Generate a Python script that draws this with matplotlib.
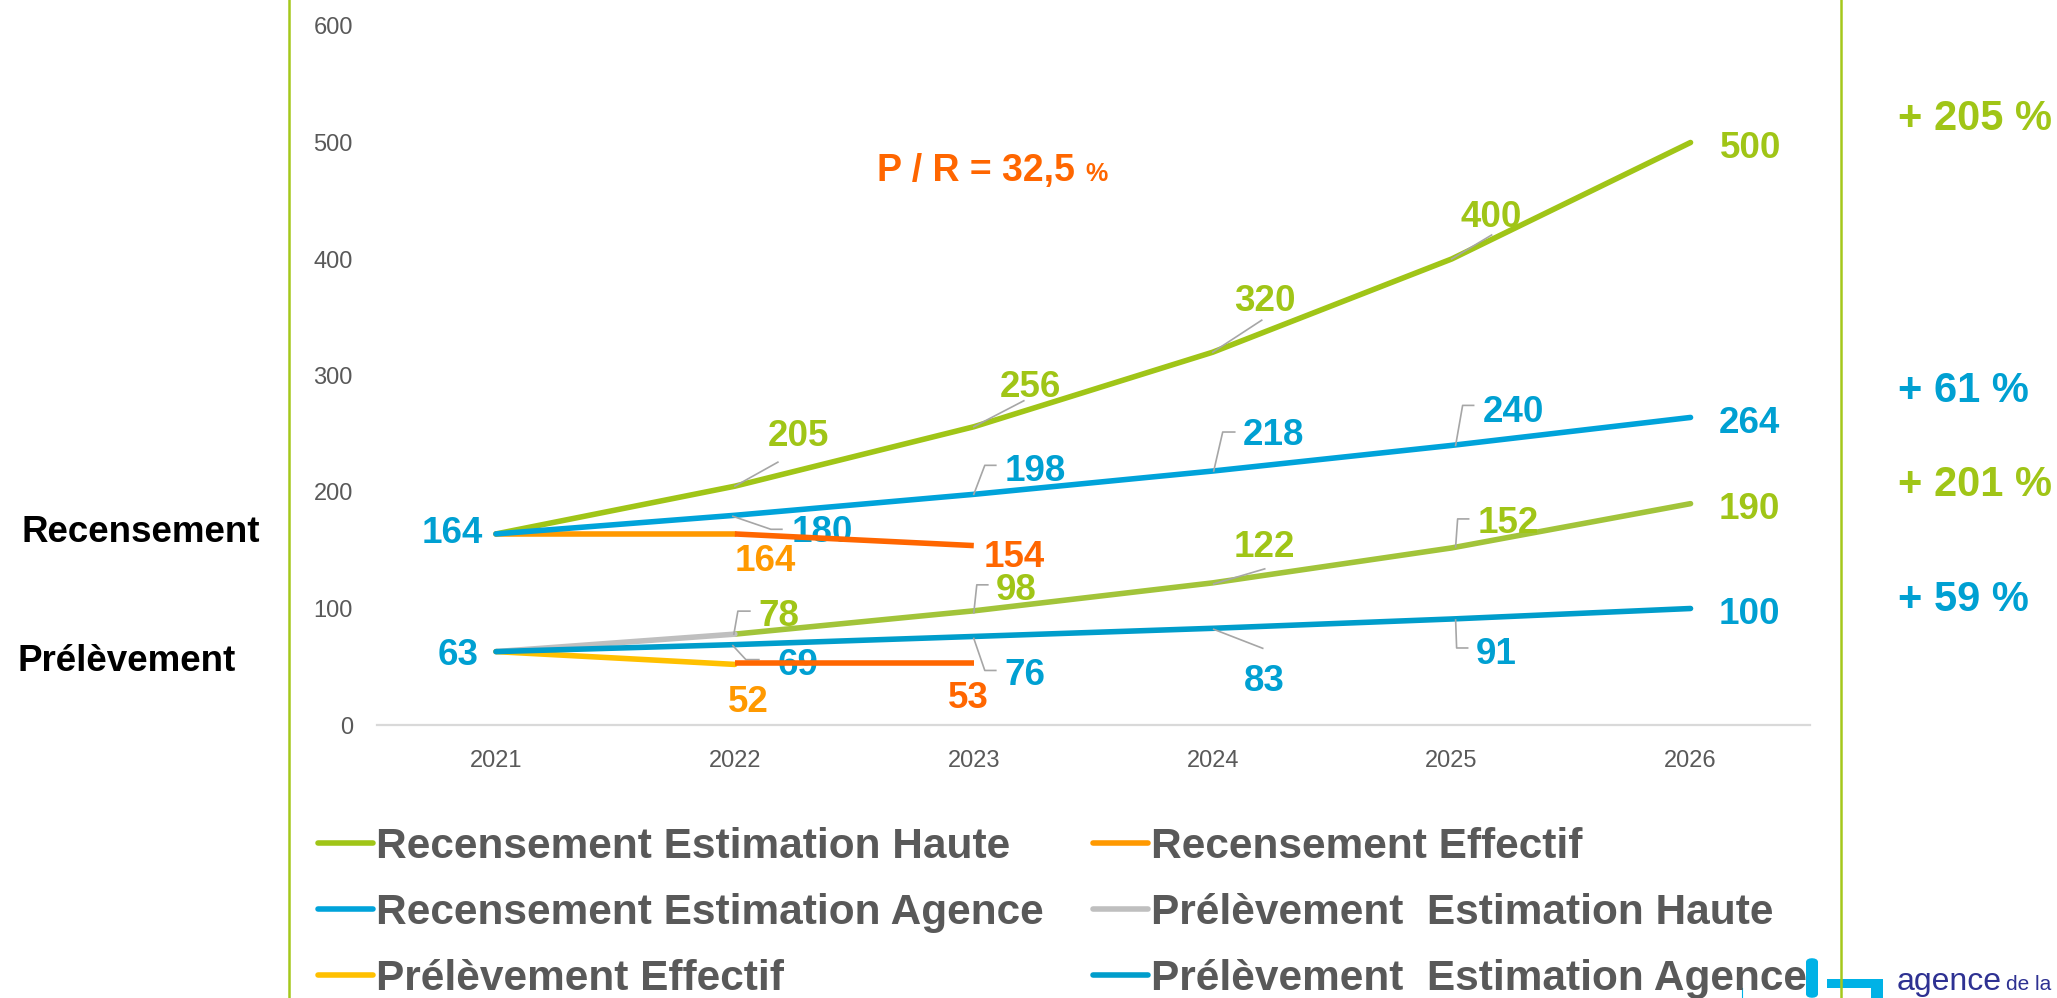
import matplotlib
matplotlib.use('Agg')
import matplotlib.pyplot as plt
from matplotlib.lines import Line2D
from matplotlib.patches import Rectangle, FancyBboxPatch

# ---------------- data ----------------
years = ['2021', '2022', '2023', '2024', '2025', '2026']
rec_haute = [164, 205, 256, 320, 400, 500]
rec_agence = [164, 180, 198, 218, 240, 264]
rec_effectif = [164, 164]          # 2021-2022
rec_effectif_next = [164, 154]     # 2022-2023
prel_haute = [63, 78, 98, 122, 152, 190]
prel_agence = [63, 69, 76, 83, 91, 100]
prel_effectif = [63, 52]           # 2021-2022
prel_effectif_next = [53, 53]      # 2022-2023
growth_labels = ['+ 205 %', '+ 61 %', '+ 201 %', '+ 59 %']
ratio_text = 'P / R = 32,5 '
legend_labels = ['Recensement Estimation Haute', 'Recensement Estimation Agence',
                 'Prélèvement Effectif', 'Recensement Effectif',
                 'Prélèvement  Estimation Haute', 'Prélèvement  Estimation Agence']

# ---------------- style ----------------
GREEN = '#A0C517'
GREEN2 = '#A2C43A'
BLUE = '#00A3DA'
BLUE2 = '#009DCB'
LBLUE = '#00A0D2'
ORANGE = '#FF9900'
RED = '#FF6600'
YELLOW = '#FFC000'
GRAY = '#BFBFBF'
LEADER = '#A6A6A6'
TXT = '#595959'
FRAME = '#A5C81C'

W, H = 2057, 998
plt.rcParams['font.family'] = ['Liberation Sans', 'DejaVu Sans']
fig = plt.figure(figsize=(W / 100, H / 100), dpi=100)
ax = fig.add_axes([376.5 / W, 1 - 725 / H, (1810 - 376.5) / W, (725 - 26) / H])
ax.set_xlim(-0.5, len(years) - 0.5)
ax.set_ylim(0, 600)
ax.set_yticks(range(0, 601, 100))
ax.set_xticks(range(len(years)))
ax.set_xticklabels(years)
for s in ['top', 'right', 'left']:
    ax.spines[s].set_visible(False)
ax.spines['bottom'].set_color('#D9D9D9')
ax.spines['bottom'].set_linewidth(1.6)
ax.tick_params(axis='both', length=0, labelsize=17, labelcolor=TXT)
ax.tick_params(axis='x', pad=18)
ax.tick_params(axis='y', pad=17)

LW = 4.0
kw = dict(lw=LW, solid_capstyle='round', solid_joinstyle='round')
xi = list(range(len(years)))
l_rh, = ax.plot(xi, rec_haute, color=GREEN, zorder=2, **kw)
ax.plot(xi[1:], prel_haute[1:], color=GREEN2, zorder=2, **kw)
l_ph, = ax.plot(xi[:2], prel_haute[:2], color=GRAY, zorder=2, **kw)
l_re, = ax.plot(xi[:2], rec_effectif, color=ORANGE, zorder=2.1, **kw)
l_pe, = ax.plot(xi[:2], prel_effectif, color=YELLOW, zorder=2.1, **kw)
l_ra, = ax.plot(xi, rec_agence, color=BLUE, zorder=2.2, **kw)
l_pa, = ax.plot(xi, prel_agence, color=BLUE2, zorder=2.2, **kw)
ax.plot(xi[1:3], rec_effectif_next, color=RED, zorder=6, lw=LW, solid_capstyle='butt')
ax.plot(xi[1:3], prel_effectif_next, color=RED, zorder=6, lw=LW, solid_capstyle='butt')

# ---------------- data labels ----------------
LFS = 26.5
EM = LFS * 100 / 72
CAP = 0.716 * EM


def put_label(i, v, txt, color, dx, dy, leader=None):
    x0, y0 = ax.transData.transform((i, v))
    ax.text((x0 + dx) / W, (y0 + dy - CAP / 2) / H, txt, color=color, fontsize=LFS,
            fontweight='bold', ha='center', va='baseline', transform=fig.transFigure,
            zorder=5, clip_on=False)
    if leader:
        xs = [(x0 + a) / W for a, b in leader]
        ys = [(y0 + b) / H for a, b in leader]
        ax.add_line(Line2D(xs, ys, transform=fig.transFigure, color=LEADER, lw=1.2,
                           zorder=3, clip_on=False))


rh_layout = [None,
             (64, 53, [(0, 0), (43, 24)]),
             (57, 43, [(0, 0), (50, 26)]),
             (52, 54, [(0, 0), (49, 32)]),
             (40, 45, [(0, 0), (40, 24)]),
             (60, -2, None)]
for i, lay in enumerate(rh_layout):
    if lay:
        put_label(i, rec_haute[i], str(rec_haute[i]), GREEN, lay[0], lay[1], lay[2])

ra_layout = [(-44, 4, None),
             (87, -14, [(-2, -1), (36, -14), (47, -14)]),
             (61, 27, [(0, 0), (11, 29), (22, 29)]),
             (61, 39, [(1, 0), (10, 39), (22, 39)]),
             (62, 37, [(4, 0), (11, 40), (22, 40)]),
             (59, -2, None)]
for i, lay in enumerate(ra_layout):
    put_label(i, rec_agence[i], str(rec_agence[i]), LBLUE, lay[0], lay[1], lay[2])

ph_layout = [None,
             (44, 21, [(-1, 0), (3, 23), (15, 23)]),
             (42, 24, [(0, -2), (3, 26), (14, 26)]),
             (52, 39, [(1, -1), (52, 14)]),
             (57, 28, [(4, 1), (6, 29), (17, 29)]),
             (59, -2, None)]
for i, lay in enumerate(ph_layout):
    if lay:
        put_label(i, prel_haute[i], str(prel_haute[i]), GREEN, lay[0], lay[1], lay[2])

pa_layout = [(-38, 0, None),
             (63, -17, [(-2, -1), (11, -15), (24, -15)]),
             (51, -35, [(0, -2), (11, -34), (22, -34)]),
             (52, -50, [(1, -1), (50, -20)]),
             (45, -32, [(4, -1), (5, -29), (16, -29)]),
             (59, -2, None)]
for i, lay in enumerate(pa_layout):
    put_label(i, prel_agence[i], str(prel_agence[i]), LBLUE, lay[0], lay[1], lay[2])

put_label(1, rec_effectif[1], str(rec_effectif[1]), ORANGE, 30, -24)
put_label(2, rec_effectif_next[1], str(rec_effectif_next[1]), RED, 40, -8)
put_label(1, prel_effectif[1], str(prel_effectif[1]), ORANGE, 13, -34)
put_label(2, prel_effectif_next[1], str(prel_effectif_next[1]), RED, -5, -32)

# ---------------- frame lines ----------------
for xpix in (289, 1841):
    fig.add_artist(Line2D([xpix / W, xpix / W], [0, 1], transform=fig.transFigure,
                          color=FRAME, lw=1.8))

# ---------------- side texts ----------------
fig.text(22 / W, 1 - 542 / H, 'Recensement', fontsize=26.5, fontweight='bold',
         color='black', ha='left', va='baseline')
fig.text(17 / W, 1 - 671 / H, 'Prélèvement', fontsize=26.5, fontweight='bold',
         color='black', ha='left', va='baseline')

g_base = [130.5, 402, 496, 611]
g_col = [GREEN, LBLUE, GREEN, LBLUE]
for t, b, c in zip(growth_labels, g_base, g_col):
    fig.text(1898 / W, 1 - b / H, t, fontsize=30, fontweight='bold', color=c,
             ha='left', va='baseline')

t1 = fig.text(877 / W, 1 - 181 / H, ratio_text, fontsize=27, fontweight='bold',
              color=RED, ha='left', va='baseline')
fig.canvas.draw()
bb = t1.get_window_extent(renderer=fig.canvas.get_renderer())
fig.text(bb.x1 / W, 1 - 181 / H, '%', fontsize=18, fontweight='bold', color=RED,
         ha='left', va='baseline')

# ---------------- legend ----------------
def h(c):
    return Line2D([0], [0], color=c, lw=LW, solid_capstyle='round')

handles = [h(GREEN), h(BLUE), h(YELLOW), h(ORANGE), h(GRAY), h(BLUE2)]
leg = fig.legend(handles, legend_labels, ncol=2, loc='center left',
                 bbox_to_anchor=(318 / W, 1 - 913 / H), frameon=False,
                 prop={'size': 30.5, 'weight': 'bold'}, labelcolor=TXT,
                 handlelength=1.3, handletextpad=0.07, columnspacing=1.16,
                 labelspacing=0.61, borderpad=0, borderaxespad=0)

# ---------------- logo (partial) ----------------
LOGO = '#00B2E6'
fig.add_artist(FancyBboxPatch((1806 / W, 0), 12 / W, 40 / H,
                              boxstyle='round,pad=0,rounding_size=0.004',
                              transform=fig.transFigure, color=LOGO, lw=0))
fig.add_artist(Rectangle((1827 / W, 1 - 988 / H), 56 / W, 9 / H,
                         transform=fig.transFigure, color=LOGO, lw=0))
fig.add_artist(Rectangle((1871 / W, 0), 12 / W, 18 / H,
                         transform=fig.transFigure, color=LOGO, lw=0))
fig.add_artist(Line2D([1742 / W, 1742 / W], [0, 10 / H], transform=fig.transFigure,
                      color=LOGO, lw=0.8))
fig.text(1897 / W, 8 / H, 'agence', fontsize=23, color='#2E3192', ha='left',
         va='baseline')
fig.text(2006 / W, 8 / H, 'de la', fontsize=15, color='#2E3192', ha='left',
         va='baseline')

fig.savefig('out.png', dpi=100)
